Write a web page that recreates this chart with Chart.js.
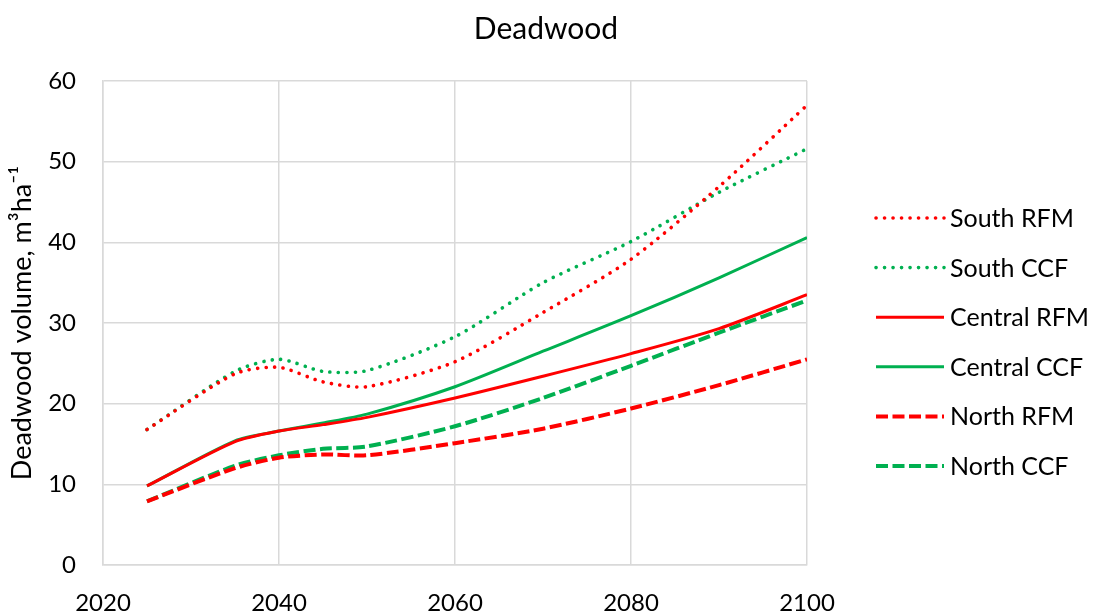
<!DOCTYPE html>
<html>
<head>
<meta charset="utf-8">
<script src="https://cdn.jsdelivr.net/npm/chart.js@4/dist/chart.umd.min.js"></script>
<style>
  html, body { margin: 0; padding: 0; background: #fff; }
  #wrap { width: 1094px; height: 613px; }
</style>
</head>
<body>
<div id="wrap"><canvas id="c" width="1094" height="613"></canvas></div>
<script>
// Simulation years and deadwood volume (m3/ha) per region and management scenario
const years = [2025, 2035, 2040, 2045, 2050, 2060, 2070, 2080, 2090, 2100];
const southRFM   = [16.8, 23.7, 24.5, 22.7, 22.1, 25.2, 31.3, 37.9, 46.9, 57.0];
const southCCF   = [16.8, 24.0, 25.5, 24.0, 24.1, 28.3, 35.0, 40.1, 46.2, 51.6];
const centralRFM = [9.8, 15.3, 16.6, 17.4, 18.3, 20.7, 23.4, 26.2, 29.3, 33.5];
const centralCCF = [9.8, 15.4, 16.6, 17.6, 18.7, 22.1, 26.5, 30.9, 35.6, 40.6];
const northRFM   = [7.9, 12.0, 13.3, 13.7, 13.6, 15.1, 16.9, 19.4, 22.3, 25.5];
const northCCF   = [7.9, 12.3, 13.6, 14.4, 14.7, 17.2, 20.7, 24.7, 28.8, 32.8];
const seriesNames = ['South RFM', 'South CCF', 'Central RFM', 'Central CCF', 'North RFM', 'North CCF'];
const xTicks = [2020, 2040, 2060, 2080, 2100];
const yTicks = [0, 10, 20, 30, 40, 50, 60];

const RED = '#FF0000';
const GREEN = '#00B050';
const FONT = 'Lato, "Open Sans", "DejaVu Sans", sans-serif';

const styles = {
  dotted: { borderWidth: 3.6, borderDash: [0.1, 8.4], borderCapStyle: 'round' },
  solid:  { borderWidth: 3, borderDash: [], borderCapStyle: 'butt' },
  dashed: { borderWidth: 4, borderDash: [12, 4.5], borderCapStyle: 'butt' }
};

function toPoints(vals) { return years.map((y, i) => ({ x: y, y: vals[i] })); }
function makeSet(label, vals, color, style) {
  return Object.assign({
    label: label,
    data: toPoints(vals),
    borderColor: color,
    backgroundColor: color,
    pointRadius: 0,
    pointHoverRadius: 0,
    tension: 0.25,
    fill: false
  }, styles[style]);
}

const datasets = [
  makeSet(seriesNames[0], southRFM, RED, 'dotted'),
  makeSet(seriesNames[1], southCCF, GREEN, 'dotted'),
  makeSet(seriesNames[2], centralRFM, RED, 'solid'),
  makeSet(seriesNames[3], centralCCF, GREEN, 'solid'),
  makeSet(seriesNames[4], northRFM, RED, 'dashed'),
  makeSet(seriesNames[5], northCCF, GREEN, 'dashed')
];

// Title and side legend painted onto the canvas
const decorations = {
  id: 'decorations',
  afterDraw(chart) {
    const ctx = chart.ctx;
    ctx.save();
    ctx.fillStyle = '#000';
    ctx.textBaseline = 'middle';
    ctx.textAlign = 'center';
    ctx.font = '30px ' + FONT;
    ctx.fillText('Deadwood', 546, 29);

    ctx.textAlign = 'left';
    ctx.font = '25px ' + FONT;
    chart.data.datasets.forEach((ds, i) => {
      const y = 218 + i * 49.6;
      ctx.save();
      ctx.strokeStyle = ds.borderColor;
      ctx.lineWidth = ds.borderWidth;
      ctx.lineCap = ds.borderCapStyle;
      ctx.setLineDash(ds.borderDash);
      ctx.beginPath();
      ctx.moveTo(876, y);
      ctx.lineTo(944, y);
      ctx.stroke();
      ctx.restore();
      ctx.fillText(ds.label, 950, y + 1);
    });
    ctx.restore();
  }
};

new Chart(document.getElementById('c'), {
  type: 'line',
  data: { datasets: datasets },
  plugins: [decorations],
  options: {
    responsive: false,
    animation: false,
    events: [],
    layout: { padding: { top: 81, right: 287, left: 0, bottom: 0 } },
    plugins: {
      legend: { display: false },
      title: { display: false },
      tooltip: { enabled: false }
    },
    scales: {
      x: {
        type: 'linear',
        min: 2020,
        max: 2100,
        afterBuildTicks(scale) { scale.ticks = xTicks.map(v => ({ value: v })); },
        afterFit(scale) { scale.height = 48; },
        grid: { color: '#D9D9D9', lineWidth: 1.5, drawTicks: false },
        border: { color: '#D9D9D9', width: 1.5 },
        ticks: {
          color: '#000',
          padding: 24,
          maxRotation: 0,
          font: { family: FONT, size: 24 },
          callback: v => String(v)
        }
      },
      y: {
        min: 0,
        max: 60,
        afterBuildTicks(scale) { scale.ticks = yTicks.map(v => ({ value: v })); },
        afterFit(scale) { scale.width = 103; },
        grid: { color: '#D9D9D9', lineWidth: 1.5, drawTicks: false },
        border: { color: '#D9D9D9', width: 1.5 },
        ticks: {
          color: '#000',
          padding: 27,
          font: { family: FONT, size: 24 }
        },
        title: {
          display: true,
          text: 'Deadwood volume, m\u00B3ha\u207B\u00B9',
          color: '#000',
          font: { family: FONT, size: 27 },
          padding: { top: 6, bottom: 0 }
        }
      }
    }
  }
});
</script>
</body>
</html>
